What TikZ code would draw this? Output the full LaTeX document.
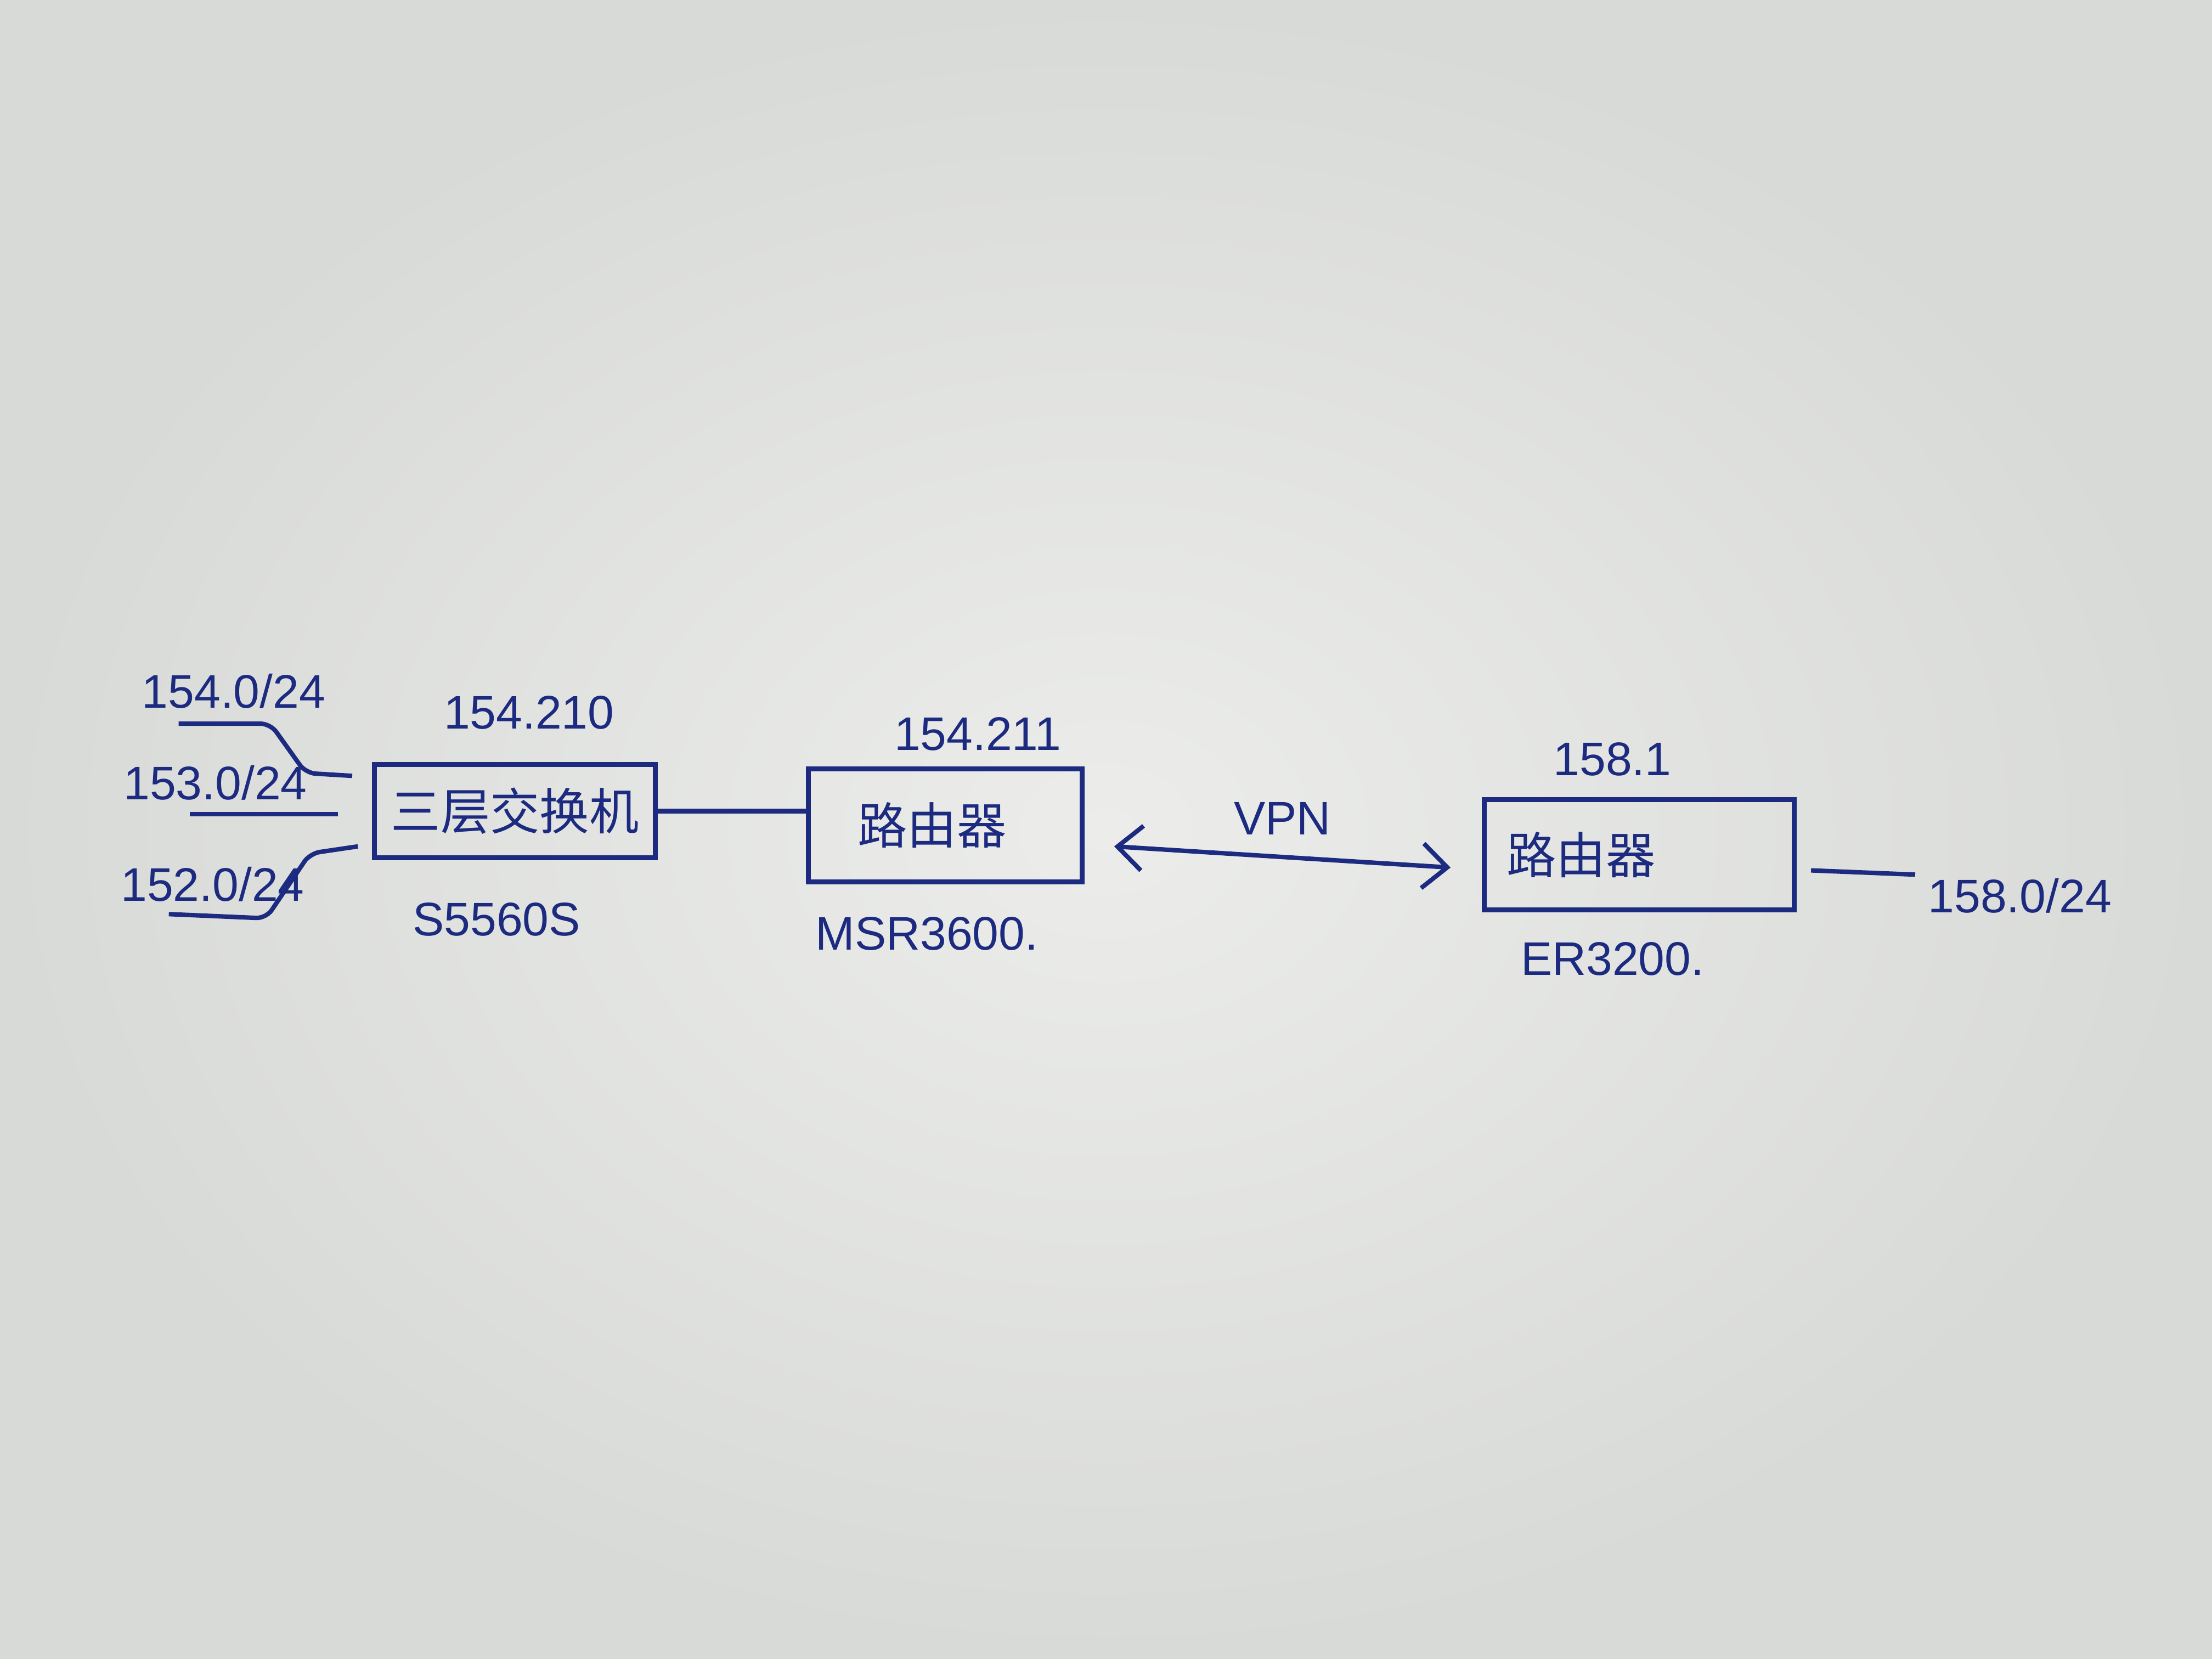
\documentclass[tikz,border=0pt]{standalone}
\usepackage{fontspec}
\setmainfont{Liberation Sans}
\newfontfamily\cjkfont{Noto Sans CJK SC}
\usepackage{tikz}
\usetikzlibrary{arrows.meta, positioning, calc}
\definecolor{ink}{RGB}{28,42,128}
\definecolor{paperin}{RGB}{236,237,234}
\definecolor{paperout}{RGB}{216,218,215}

\begin{document}
\begin{tikzpicture}[
    box/.style={
      rectangle, draw=ink, line width=1pt,
      font=\cjkfont\fontsize{10}{12}\selectfont, text=ink
    },
    lbl/.style={font=\fontsize{9.5}{11}\selectfont, text=ink, inner sep=1pt},
    link/.style={draw=ink, line width=0.9pt, rounded corners=2pt},
    arr/.style={{Straight Barb[length=5pt,width=9pt]}-{Straight Barb[length=5pt,width=9pt]},
                draw=ink, line width=0.9pt},
  ]

  %% ── Paper ─────────────────────────────────────────────────────────────
  \shade[inner color=paperin, outer color=paperout] (0,0) rectangle (15.68,11.76);
  \useasboundingbox (0,0) rectangle (15.68,11.76);

  %% ── Devices (left → right) ────────────────────────────────────────────
  \node[box, minimum width=1.86cm, minimum height=0.66cm] (l3sw) at (3.65,6.01) {三层交换机};
  \node[box, minimum height=0.80cm, inner xsep=0.35cm, text width=1.24cm, align=left]
      (msr) at ($(l3sw) + (3.05cm,-0.10cm)$) {路由器};
  \node[box, minimum height=0.78cm, inner xsep=0.16cm, text width=1.88cm, align=left]
      (er)  at ($(msr) + (4.92cm,-0.21cm)$)  {路由器};

  %% ── Addresses and models ──────────────────────────────────────────────
  \node[lbl] (ip210)  at ($(l3sw.north) + (0.10cm, 0.35cm)$)  {154.210};
  \node[lbl] (mdlsw)  at ($(l3sw.south) + (-0.13cm,-0.42cm)$) {S5560S};
  \node[lbl] (ip211)  at ($(msr.north)  + (0.23cm, 0.23cm)$)  {154.211};
  \node[lbl] (mdlmsr) at ($(msr.south)  + (-0.13cm,-0.35cm)$) {MSR3600.};
  \node[lbl] (ip1581) at ($(er.north)   + (-0.19cm, 0.27cm)$) {158.1};
  \node[lbl] (mdler)  at ($(er.south)   + (-0.19cm,-0.33cm)$) {ER3200.};

  %% ── Subnets ───────────────────────────────────────────────────────────
  \node[lbl] (n154) at ($(l3sw.west) + (-0.98cm, 0.85cm)$) {154.0/24};
  \node[lbl] (n153) at ($(l3sw.west) + (-1.11cm, 0.20cm)$) {153.0/24};
  \node[lbl] (n152) at ($(l3sw.west) + (-1.13cm,-0.52cm)$) {152.0/24};
  \node[lbl] (n158) at ($(er.east)   + (1.58cm,-0.29cm)$)  {158.0/24};

  %% ── Subnet links into the switch ──────────────────────────────────────
  \draw[link] ($(n154) + (-0.39,-0.23)$) -- ++(0.65,0)
      -- ($(l3sw.west) + (-0.47,0.27)$) -- ($(l3sw.west) + (-0.14,0.25)$);
  \draw[link] ($(n153) + (-0.18,-0.22)$) -- ($(l3sw.west) + (-0.24,-0.02)$);
  \draw[link] ($(n152) + (-0.31,-0.21)$) -- ($(n152) + (0.38,-0.24)$)
      -- ($(l3sw.west) + (-0.44,-0.30)$) -- ($(l3sw.west) + (-0.10,-0.25)$);

  %% ── Spine ─────────────────────────────────────────────────────────────
  \draw[link] (l3sw.east) -- (msr.west |- l3sw.east);
  \draw[arr] ($(msr.east) + (0.21,-0.15)$)
      -- node[lbl, above=3pt] (vpn) {VPN} ($(er.west) + (-0.22,-0.09)$);
  \draw[link] ($(er.east) + (0.10,-0.11)$) -- ($(n158.west) + (-0.05,0.15)$);

\end{tikzpicture}
\end{document}
